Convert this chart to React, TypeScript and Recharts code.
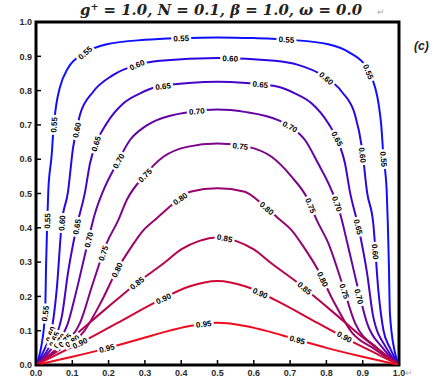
import React from 'react';
import { ComposedChart, Line, Scatter, XAxis, YAxis, ReferenceArea } from 'recharts';

const W = 437;
const H = 378;
const M = { top: 22, right: 38, bottom: 13, left: 36 };
const PW = W - M.left - M.right;
const PH = H - M.top - M.bottom;

const TICKS = [0, 0.1, 0.2, 0.3, 0.4, 0.5, 0.6, 0.7, 0.8, 0.9, 1.0];
const LEVELS = ['0.55', '0.60', '0.65', '0.70', '0.75', '0.80', '0.85', '0.90', '0.95'];
const COLORS = ['#1010ff', '#2a06e4', '#4604c6', '#6204a6', '#7e0488', '#98046c', '#b4044e', '#d20634', '#f00a1e'];

// contour lines, left corner to right corner
const C055 = [[0, 0], [0.012, 0.04], [0.025, 0.15], [0.028, 0.3], [0.031, 0.42], [0.034, 0.51], [0.043, 0.61], [0.049, 0.7], [0.056, 0.76], [0.066, 0.81], [0.088, 0.865], [0.135, 0.91], [0.195, 0.935], [0.3, 0.948], [0.4, 0.953], [0.5, 0.955], [0.6, 0.953], [0.7, 0.948], [0.805, 0.935], [0.865, 0.91], [0.912, 0.865], [0.934, 0.81], [0.944, 0.76], [0.951, 0.7], [0.957, 0.61], [0.966, 0.51], [0.969, 0.42], [0.972, 0.3], [0.975, 0.15], [0.988, 0.04], [1, 0]];
const C060 = [[0, 0], [0.025, 0.05], [0.043, 0.102], [0.057, 0.219], [0.071, 0.414], [0.088, 0.504], [0.102, 0.633], [0.121, 0.729], [0.157, 0.796], [0.212, 0.845], [0.278, 0.875], [0.342, 0.887], [0.5, 0.895], [0.658, 0.887], [0.722, 0.875], [0.788, 0.845], [0.843, 0.796], [0.879, 0.729], [0.898, 0.633], [0.912, 0.504], [0.929, 0.414], [0.943, 0.219], [0.957, 0.102], [0.975, 0.05], [1, 0]];
const C065 = [[0, 0], [0.035, 0.05], [0.071, 0.141], [0.088, 0.268], [0.112, 0.403], [0.135, 0.504], [0.149, 0.589], [0.165, 0.645], [0.195, 0.705], [0.241, 0.763], [0.287, 0.792], [0.333, 0.811], [0.42, 0.822], [0.5, 0.826], [0.58, 0.822], [0.667, 0.811], [0.713, 0.792], [0.759, 0.763], [0.805, 0.705], [0.835, 0.645], [0.851, 0.589], [0.865, 0.504], [0.888, 0.403], [0.912, 0.268], [0.929, 0.141], [0.965, 0.05], [1, 0]];
const C070 = [[0, 0], [0.045, 0.05], [0.088, 0.122], [0.112, 0.219], [0.14, 0.345], [0.162, 0.44], [0.186, 0.51], [0.223, 0.588], [0.259, 0.656], [0.3, 0.695], [0.333, 0.714], [0.425, 0.738], [0.5, 0.745], [0.575, 0.738], [0.667, 0.714], [0.7, 0.695], [0.741, 0.656], [0.777, 0.588], [0.814, 0.51], [0.838, 0.44], [0.86, 0.345], [0.888, 0.219], [0.912, 0.122], [0.955, 0.05], [1, 0]];
const C075 = [[0, 0], [0.06, 0.05], [0.121, 0.122], [0.157, 0.239], [0.195, 0.356], [0.227, 0.423], [0.25, 0.481], [0.296, 0.549], [0.351, 0.607], [0.416, 0.636], [0.5, 0.646], [0.584, 0.636], [0.649, 0.607], [0.704, 0.549], [0.75, 0.481], [0.773, 0.423], [0.805, 0.356], [0.843, 0.239], [0.879, 0.122], [0.94, 0.05], [1, 0]];
const C080 = [[0, 0], [0.065, 0.045], [0.13, 0.095], [0.18, 0.185], [0.223, 0.277], [0.26, 0.34], [0.295, 0.392], [0.333, 0.428], [0.379, 0.471], [0.425, 0.505], [0.5, 0.515], [0.575, 0.505], [0.621, 0.471], [0.667, 0.428], [0.705, 0.392], [0.74, 0.34], [0.777, 0.277], [0.82, 0.185], [0.87, 0.095], [0.935, 0.045], [1, 0]];
const C085 = [[0, 0], [0.05, 0.04], [0.103, 0.083], [0.167, 0.141], [0.222, 0.19], [0.278, 0.239], [0.35, 0.295], [0.4, 0.337], [0.45, 0.362], [0.5, 0.372], [0.55, 0.362], [0.6, 0.337], [0.65, 0.295], [0.722, 0.239], [0.778, 0.19], [0.833, 0.141], [0.897, 0.083], [0.95, 0.04], [1, 0]];
const C090 = [[0, 0], [0.06, 0.032], [0.121, 0.064], [0.223, 0.122], [0.342, 0.19], [0.42, 0.228], [0.5, 0.245], [0.58, 0.228], [0.658, 0.19], [0.777, 0.122], [0.879, 0.064], [0.94, 0.032], [1, 0]];
const C095 = [[0, 0], [0.1, 0.024], [0.2, 0.05], [0.3, 0.08], [0.36, 0.098], [0.42, 0.113], [0.5, 0.123], [0.58, 0.113], [0.64, 0.098], [0.7, 0.08], [0.8, 0.05], [0.9, 0.024], [1, 0]];

// where the contour labels sit
const L055 = [[0.025, 0.15], [0.031, 0.42], [0.049, 0.7], [0.135, 0.91], [0.4, 0.953], [0.69, 0.949], [0.916, 0.855], [0.958, 0.6]];
const L060 = [[0.04, 0.09], [0.071, 0.414], [0.112, 0.685], [0.278, 0.875], [0.535, 0.894], [0.8, 0.836], [0.9, 0.612], [0.935, 0.33]];
const L065 = [[0.05, 0.075], [0.112, 0.403], [0.165, 0.645], [0.35, 0.813], [0.618, 0.818], [0.83, 0.66], [0.888, 0.403]];
const L070 = [[0.065, 0.07], [0.145, 0.365], [0.227, 0.595], [0.443, 0.74], [0.7, 0.695], [0.83, 0.47], [0.89, 0.2]];
const L075 = [[0.08, 0.072], [0.185, 0.326], [0.3, 0.553], [0.563, 0.638], [0.757, 0.465], [0.85, 0.215]];
const L080 = [[0.1, 0.07], [0.223, 0.277], [0.397, 0.485], [0.636, 0.457], [0.79, 0.25]];
const L085 = [[0.278, 0.239], [0.52, 0.37], [0.74, 0.224]];
const L090 = [[0.121, 0.064], [0.351, 0.194], [0.618, 0.21], [0.85, 0.082]];
const L095 = [[0.195, 0.049], [0.462, 0.12], [0.72, 0.074]];

const CONTOURS = [C055, C060, C065, C070, C075, C080, C085, C090, C095];
const LABELS = [L055, L060, L065, L070, L075, L080, L085, L090, L095];

const toRows = (pts: number[][]) => pts.map(([x, y]) => ({ x, y }));

function segAngle(pts: number[][], px: number, py: number) {
  let best = 0;
  let bd = Infinity;
  for (let i = 0; i < pts.length - 1; i++) {
    const ax = pts[i][0] * PW, ay = pts[i][1] * PH;
    const bx = pts[i + 1][0] * PW, by = pts[i + 1][1] * PH;
    const qx = px * PW, qy = py * PH;
    const dx = bx - ax, dy = by - ay;
    const len = dx * dx + dy * dy || 1;
    const t = Math.max(0, Math.min(1, ((qx - ax) * dx + (qy - ay) * dy) / len));
    const d = (ax + t * dx - qx) ** 2 + (ay + t * dy - qy) ** 2;
    if (d < bd) { bd = d; best = i; }
  }
  const a = pts[best], b = pts[best + 1];
  return (Math.atan2(-(b[1] - a[1]) * PH, (b[0] - a[0]) * PW) * 180) / Math.PI;
}

const labelShape = (pts: number[][], text: string) => (props: any) => {
  const { cx, cy, payload } = props;
  if (cx == null || cy == null) return <g />;
  const ang = segAngle(pts, payload.x, payload.y);
  return (
    <g transform={`translate(${cx},${cy}) rotate(${ang})`}>
      <rect x={-10} y={-4.5} width={20} height={9} fill="#fff" />
      <text x={0} y={3} textAnchor="middle" fontSize={8} fontWeight="bold"
        fontFamily="'Liberation Sans', Arial, sans-serif" fill="#000">{text}</text>
    </g>
  );
};

const FONT = "'Liberation Sans', Arial, sans-serif";

const XTick = ({ x, payload }: any) => (
  <text x={x} y={M.top + PH + 11} textAnchor="middle" fontSize={9} fontWeight="bold" fontFamily={FONT} fill="#2b2b2b">
    {Number(payload.value).toFixed(1)}
  </text>
);

const YTick = ({ y, payload }: any) => (
  <text x={M.left - 4} y={y + 3.2} textAnchor="end" fontSize={9} fontWeight="bold" fontFamily={FONT} fill="#2b2b2b">
    {Number(payload.value).toFixed(1)}
  </text>
);

export default function App() {
  return (
    <div style={{ position: 'absolute', left: 0, top: 0, width: W, height: H, background: '#fff' }}>
      <ComposedChart width={W} height={H} margin={M}>
        <XAxis type="number" dataKey="x" domain={[0, 1]} ticks={TICKS} mirror axisLine={false}
          tickSize={5} tickLine={{ stroke: '#000', strokeWidth: 1.5 }} tick={<XTick />} interval={0} allowDataOverflow />
        <YAxis type="number" dataKey="y" domain={[0, 1]} ticks={TICKS} mirror axisLine={false}
          tickSize={5} tickLine={{ stroke: '#000', strokeWidth: 1.5 }} tick={<YTick />} interval={0} allowDataOverflow />
        {CONTOURS.map((pts, i) => (
          <Line key={LEVELS[i]} data={toRows(pts)} dataKey="y" type="monotone" stroke={COLORS[i]}
            strokeWidth={2} dot={false} activeDot={false} isAnimationActive={false} />
        ))}
        {LABELS.map((lab, i) => (
          <Scatter key={'l' + LEVELS[i]} data={toRows(lab)} dataKey="y" isAnimationActive={false}
            shape={labelShape(CONTOURS[i], LEVELS[i])} />
        ))}
        <ReferenceArea x1={0} x2={1} y1={0} y2={1} fill="none" fillOpacity={0} stroke="#000" strokeWidth={3} ifOverflow="visible" />
      </ComposedChart>
      <svg width={W} height={H} style={{ position: 'absolute', left: 0, top: 0, pointerEvents: 'none' }}>
        <text x={221} y={15} textAnchor="middle" fontFamily="'DejaVu Serif', serif" fontStyle="italic" fontWeight="bold"
          fontSize={14} fill="#222" textLength={282} lengthAdjust="spacingAndGlyphs">
          <tspan>g</tspan>
          <tspan dy={-5} fontSize={9}>+</tspan>
          <tspan dy={5}> = 1.0, N = 0.1, β = 1.0, ω = 0.0</tspan>
        </text>
        <text x={377} y={15} fontSize={9} fill="#aaa" fontFamily={FONT}>↵</text>
        <text x={414} y={50} fontSize={12} fontStyle="italic" fontWeight="bold" fill="#222" fontFamily={FONT}>(c)</text>
        <text x={405} y={376} fontSize={9} fill="#aaa" fontFamily={FONT}>↵</text>
      </svg>
    </div>
  );
}
